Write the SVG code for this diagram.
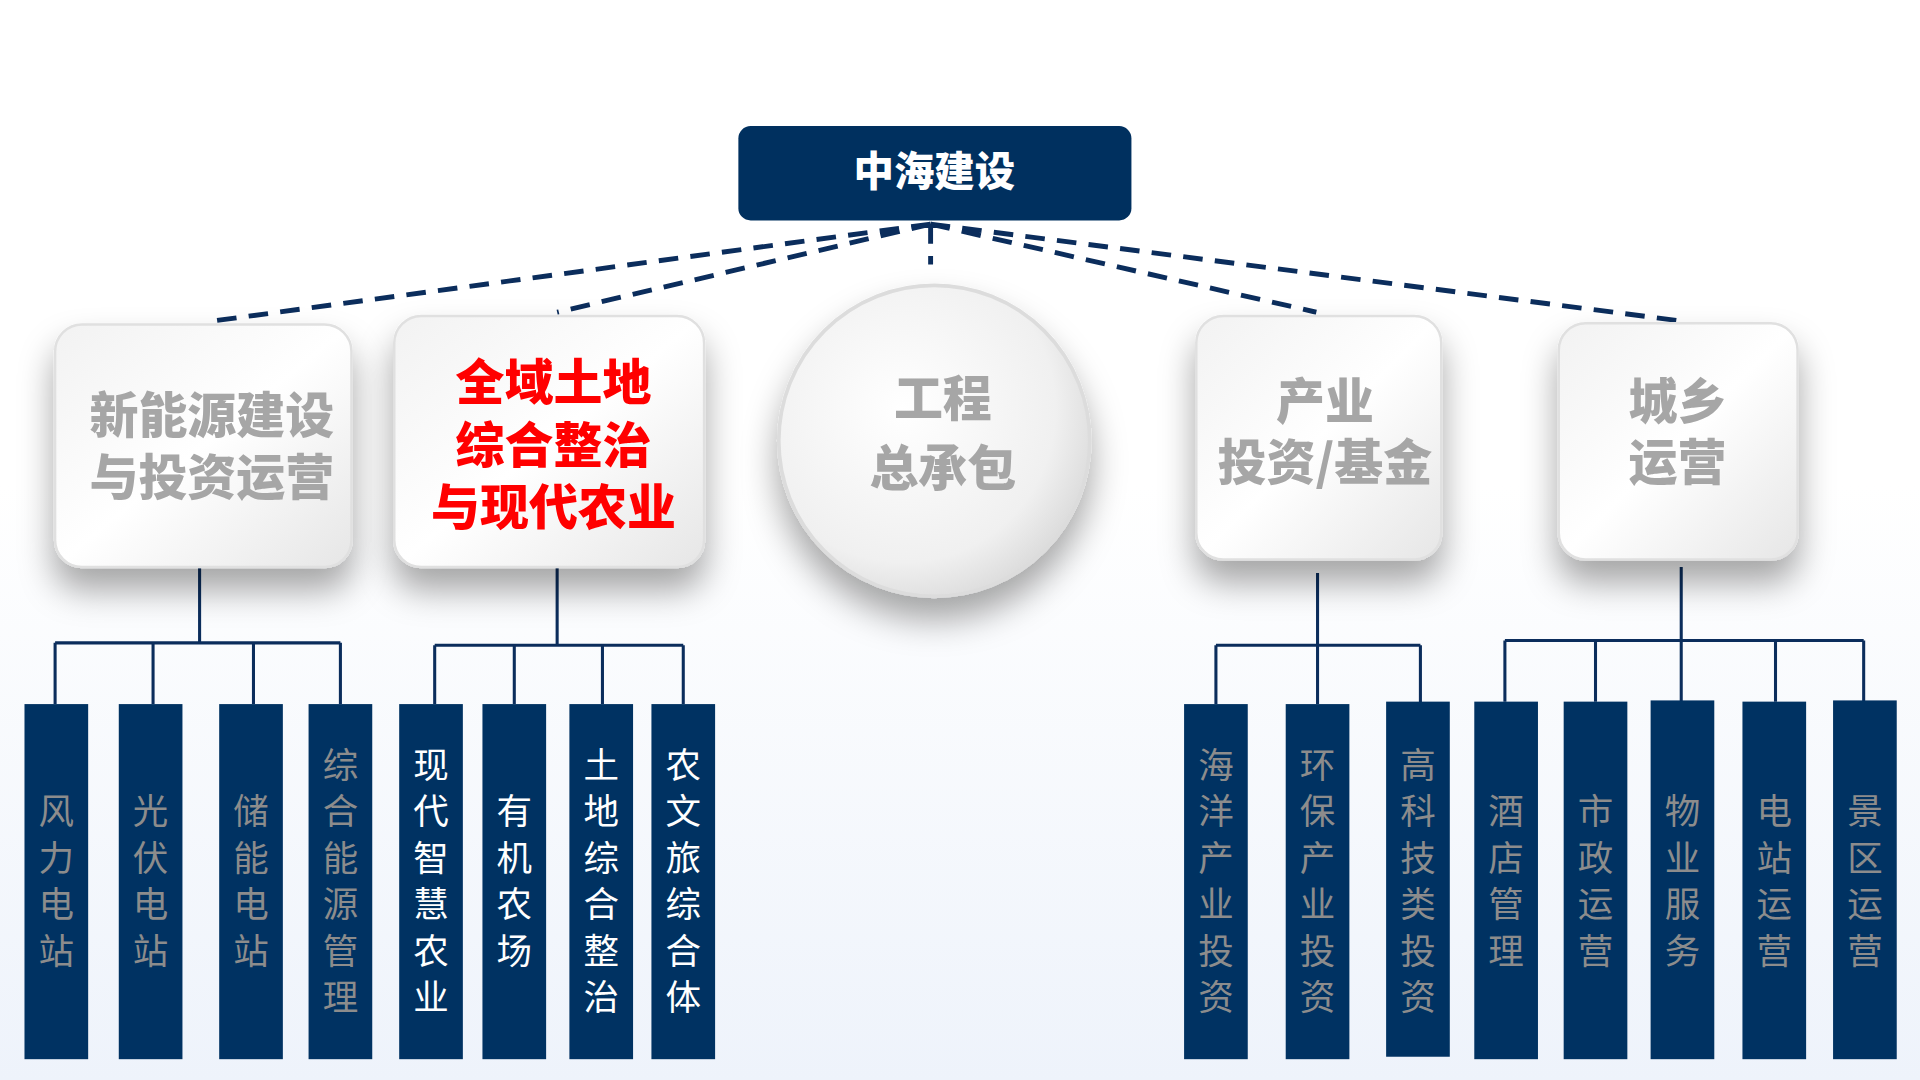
<svg xmlns="http://www.w3.org/2000/svg" width="1920" height="1080" viewBox="0 0 1920 1080">
<defs>
<linearGradient id="bg" x1="0" y1="0" x2="0" y2="1"><stop offset="0.45" stop-color="#ffffff"/><stop offset="1" stop-color="#eef3fb"/></linearGradient>
<linearGradient id="card" x1="0" y1="0" x2="1" y2="1"><stop offset="0" stop-color="#f2f2f2"/><stop offset="0.5" stop-color="#ffffff"/><stop offset="1" stop-color="#e6e6e6"/></linearGradient>
<radialGradient id="circ" cx="0.4" cy="0.4" r="0.7"><stop offset="0" stop-color="#ffffff"/><stop offset="0.7" stop-color="#f0f0f0"/><stop offset="1" stop-color="#d4d4d4"/></radialGradient>
<filter id="sh" x="-30%" y="-30%" width="160%" height="170%"><feDropShadow dx="0" dy="18" stdDeviation="14" flood-color="#000" flood-opacity="0.35"/></filter>
<style>
.card{fill:url(#card);stroke:#e0e0e0;stroke-width:2;filter:url(#sh)}
.ht{font-family:"Noto Sans CJK SC",sans-serif;font-weight:900;font-size:40px;text-anchor:middle;fill:#a6a6a6}
.red{fill:#ff0000}
.bar{fill:#003262}
.lt{font-family:"Noto Sans CJK SC",sans-serif;font-size:29px;text-anchor:middle;fill:#8c8c8c}
.w{fill:#ffffff}
.ln{stroke:#0b2d5c;stroke-width:2.5;fill:none}
.dash{stroke:#0b2d5c;stroke-width:4;stroke-dasharray:16 10;fill:none}
</style>
</defs>
<rect width="1920" height="1080" fill="url(#bg)"/>
<g transform="scale(1.22449)">
<g id="connectors">
<path class="dash" d="M760 183 L175 262 M760 183 L455 255 M760 183 L1075 255 M760 183 L1372 262 M760 183 V216"/>
<path class="ln" d="M163 463 V525 M45 525 H278 M45 525 V575 M125 525 V575 M207 525 V575 M278 525 V575"/>
<path class="ln" d="M455 463 V527 M355 527 H558 M355 527 V575 M420 527 V575 M492 527 V575 M558 527 V575"/>
<path class="ln" d="M1076 468 V527 M993 527 H1160 M993 527 V575 M1076 527 V575 M1160 527 V575"/>
<path class="ln" d="M1373 463 V523 M1229 523 H1522 M1229 523 V573 M1303 523 V573 M1373 523 V573 M1450 523 V573 M1522 523 V573"/>
</g>
<g id="root"><rect x="603" y="103" width="321" height="77" rx="10" fill="#00305f"/>
<text x="763" y="152" font-family="Noto Sans CJK SC,sans-serif" font-weight="900" font-size="33" text-anchor="middle" fill="#fff">中海建设</text></g>
<g id="n1"><rect class="card" x="45" y="265" width="242" height="198" rx="22"/>
<text class="ht" x="173" y="354">新能源建设</text><text class="ht" x="173" y="404">与投资运营</text></g>
<g id="n2"><rect class="card" x="322" y="258" width="253" height="205" rx="22"/>
<text class="ht red" x="452" y="327">全域土地</text><text class="ht red" x="452" y="378">综合整治</text><text class="ht red" x="452" y="429">与现代农业</text></g>
<g id="n3"><circle cx="763" cy="360" r="127" fill="url(#circ)" stroke="#dcdcdc" stroke-width="3" filter="url(#sh)"/>
<text class="ht" x="770" y="340" font-size="48">工程</text><text class="ht" x="770" y="397" font-size="48">总承包</text></g>
<g id="n4"><rect class="card" x="977" y="258" width="200" height="199" rx="22"/>
<text class="ht" x="1082" y="342">产业</text><text class="ht" x="1082" y="392">投资/基金</text></g>
<g id="n5"><rect class="card" x="1273" y="264" width="195" height="193" rx="22"/>
<text class="ht" x="1370" y="342">城乡</text><text class="ht" x="1370" y="392">运营</text></g>
<g id="leaves">
<g><rect class="bar" x="20" y="575" width="52" height="290"/><text class="lt" x="46"><tspan x="46" y="673">风</tspan><tspan x="46" y="711">力</tspan><tspan x="46" y="749">电</tspan><tspan x="46" y="787">站</tspan></text></g>
<g><rect class="bar" x="97" y="575" width="52" height="290"/><text class="lt"><tspan x="123" y="673">光</tspan><tspan x="123" y="711">伏</tspan><tspan x="123" y="749">电</tspan><tspan x="123" y="787">站</tspan></text></g>
<g><rect class="bar" x="179" y="575" width="52" height="290"/><text class="lt"><tspan x="205" y="673">储</tspan><tspan x="205" y="711">能</tspan><tspan x="205" y="749">电</tspan><tspan x="205" y="787">站</tspan></text></g>
<g><rect class="bar" x="252" y="575" width="52" height="290"/><text class="lt"><tspan x="278" y="635">综</tspan><tspan x="278" y="673">合</tspan><tspan x="278" y="711">能</tspan><tspan x="278" y="749">源</tspan><tspan x="278" y="787">管</tspan><tspan x="278" y="825">理</tspan></text></g>
<g><rect class="bar" x="326" y="575" width="52" height="290"/><text class="lt w"><tspan x="352" y="635">现</tspan><tspan x="352" y="673">代</tspan><tspan x="352" y="711">智</tspan><tspan x="352" y="749">慧</tspan><tspan x="352" y="787">农</tspan><tspan x="352" y="825">业</tspan></text></g>
<g><rect class="bar" x="394" y="575" width="52" height="290"/><text class="lt w"><tspan x="420" y="673">有</tspan><tspan x="420" y="711">机</tspan><tspan x="420" y="749">农</tspan><tspan x="420" y="787">场</tspan></text></g>
<g><rect class="bar" x="465" y="575" width="52" height="290"/><text class="lt w"><tspan x="491" y="635">土</tspan><tspan x="491" y="673">地</tspan><tspan x="491" y="711">综</tspan><tspan x="491" y="749">合</tspan><tspan x="491" y="787">整</tspan><tspan x="491" y="825">治</tspan></text></g>
<g><rect class="bar" x="532" y="575" width="52" height="290"/><text class="lt w"><tspan x="558" y="635">农</tspan><tspan x="558" y="673">文</tspan><tspan x="558" y="711">旅</tspan><tspan x="558" y="749">综</tspan><tspan x="558" y="787">合</tspan><tspan x="558" y="825">体</tspan></text></g>
<g><rect class="bar" x="967" y="575" width="52" height="290"/><text class="lt"><tspan x="993" y="635">海</tspan><tspan x="993" y="673">洋</tspan><tspan x="993" y="711">产</tspan><tspan x="993" y="749">业</tspan><tspan x="993" y="787">投</tspan><tspan x="993" y="825">资</tspan></text></g>
<g><rect class="bar" x="1050" y="575" width="52" height="290"/><text class="lt"><tspan x="1076" y="635">环</tspan><tspan x="1076" y="673">保</tspan><tspan x="1076" y="711">产</tspan><tspan x="1076" y="749">业</tspan><tspan x="1076" y="787">投</tspan><tspan x="1076" y="825">资</tspan></text></g>
<g><rect class="bar" x="1132" y="573" width="52" height="290"/><text class="lt"><tspan x="1158" y="635">高</tspan><tspan x="1158" y="673">科</tspan><tspan x="1158" y="711">技</tspan><tspan x="1158" y="749">类</tspan><tspan x="1158" y="787">投</tspan><tspan x="1158" y="825">资</tspan></text></g>
<g><rect class="bar" x="1204" y="573" width="52" height="292"/><text class="lt"><tspan x="1230" y="673">酒</tspan><tspan x="1230" y="711">店</tspan><tspan x="1230" y="749">管</tspan><tspan x="1230" y="787">理</tspan></text></g>
<g><rect class="bar" x="1277" y="573" width="52" height="292"/><text class="lt"><tspan x="1303" y="673">市</tspan><tspan x="1303" y="711">政</tspan><tspan x="1303" y="749">运</tspan><tspan x="1303" y="787">营</tspan></text></g>
<g><rect class="bar" x="1348" y="572" width="52" height="293"/><text class="lt"><tspan x="1374" y="673">物</tspan><tspan x="1374" y="711">业</tspan><tspan x="1374" y="749">服</tspan><tspan x="1374" y="787">务</tspan></text></g>
<g><rect class="bar" x="1423" y="573" width="52" height="292"/><text class="lt"><tspan x="1449" y="673">电</tspan><tspan x="1449" y="711">站</tspan><tspan x="1449" y="749">运</tspan><tspan x="1449" y="787">营</tspan></text></g>
<g><rect class="bar" x="1497" y="572" width="52" height="293"/><text class="lt"><tspan x="1523" y="673">景</tspan><tspan x="1523" y="711">区</tspan><tspan x="1523" y="749">运</tspan><tspan x="1523" y="787">营</tspan></text></g>
</g>
</g>
</svg>
